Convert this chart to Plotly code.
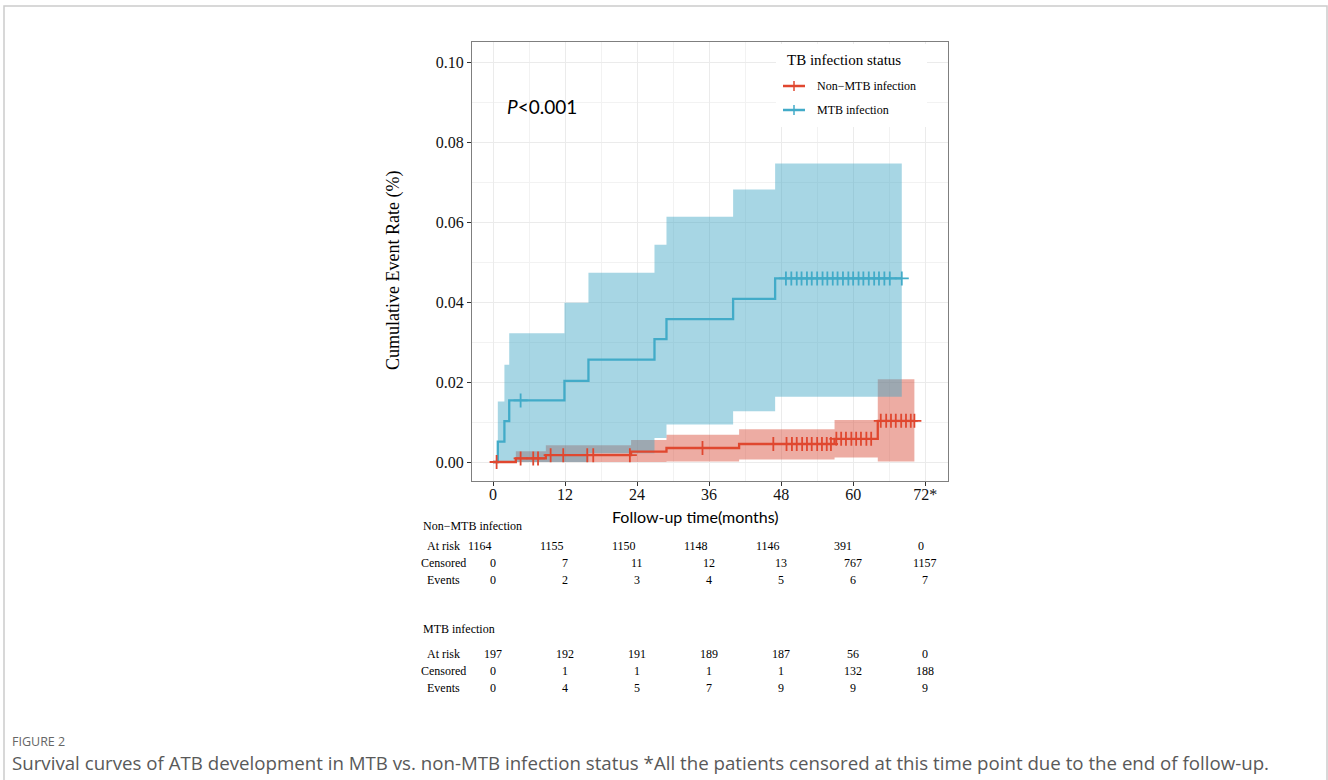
import numpy as np
import plotly.graph_objects as go

W, H = 1328, 780

# ---------------- data ----------------
# Non-MTB infection (cumulative event rate, step function)
nm_time = [0, 3.8, 8.8, 23.0, 28.9, 41.0, 56.9, 64.1, 70.2]
nm_est = [0, 0.0009, 0.0017, 0.0026, 0.0035, 0.0045, 0.0058, 0.0103, 0.0103]
nm_lower = [0, 0, 0, 0, 0.0001, 0.0006, 0.0011, 0.0001, 0.0001]
nm_upper = [0, 0.0027, 0.0042, 0.0055, 0.0068, 0.0082, 0.0105, 0.0207, 0.0207]
nm_censor = [0.6, 4.6, 6.7, 7.5, 9.6, 11.7, 15.7, 16.7, 22.8, 34.9, 46.7,
             48.9, 49.8, 50.6, 51.5, 52.3, 53.1, 54.0, 54.8, 55.6, 56.3,
             57.2, 58.0, 58.8, 59.7, 60.5, 61.3, 62.2, 63.0,
             64.6, 65.5, 66.3, 67.1, 68.0, 68.8, 69.6, 70.2]

# MTB infection
mtb_time = [0, 0.8, 1.9, 2.7, 11.9, 15.9, 26.9, 28.9, 40.0, 47.0, 68.1]
mtb_est = [0, 0.0051, 0.0102, 0.0154, 0.0203, 0.0256, 0.0307, 0.0357, 0.0408, 0.0459, 0.0459]
mtb_lower = [0, 0, 0, 0, 0, 0.0022, 0.0060, 0.0094, 0.0127, 0.0163, 0.0163]
mtb_upper = [0, 0.0151, 0.0243, 0.0322, 0.0398, 0.0473, 0.0543, 0.0613, 0.0681, 0.0746, 0.0746]
mtb_censor = [4.6, 48.8, 49.7, 50.6, 51.4, 52.3, 53.1, 54.0, 54.9, 55.7, 56.6,
              57.4, 58.3, 59.2, 60.0, 60.9, 61.7, 62.6, 63.5, 64.3, 65.2, 66.1, 68.1]

# risk table
table_times = [0, 12, 24, 36, 48, 60, 72]
x_tick_labels = ["0", "12", "24", "36", "48", "60", "72*"]
nm_at_risk = [1164, 1155, 1150, 1148, 1146, 391, 0]
nm_censored = [0, 7, 11, 12, 13, 767, 1157]
nm_events = [0, 2, 3, 4, 5, 6, 7]
mtb_at_risk = [197, 192, 191, 189, 187, 56, 0]
mtb_censored = [0, 1, 1, 1, 1, 132, 188]
mtb_events = [0, 4, 5, 7, 9, 9, 9]

y_ticks = [0.00, 0.02, 0.04, 0.06, 0.08, 0.10]

# ---------------- styles ----------------
RED = "#E0472F"
BLUE = "#42ABC8"
RED_FILL = "rgba(215,70,50,0.45)"
BLUE_FILL = "rgba(60,165,195,0.45)"
SERIF = "Liberation Serif"
SANS = "Lato"


def px(x):
    return x / W


def py(y):
    return 1 - y / H


def step_value(times, vals, t):
    i = np.searchsorted(np.asarray(times), t, side="right") - 1
    return vals[max(i, 0)]


fig = go.Figure()

# confidence bands (red first, blue over it)
for t, lo, up, fc in [(nm_time, nm_lower, nm_upper, RED_FILL),
                      (mtb_time, mtb_lower, mtb_upper, BLUE_FILL)]:
    fig.add_trace(go.Scatter(x=t, y=lo, mode="lines", line=dict(width=0, shape="hv"),
                             showlegend=False, hoverinfo="skip"))
    fig.add_trace(go.Scatter(x=t, y=up, mode="lines", line=dict(width=0, shape="hv"),
                             fill="tonexty", fillcolor=fc, showlegend=False, hoverinfo="skip"))

# step lines
fig.add_trace(go.Scatter(x=mtb_time, y=mtb_est, mode="lines",
                         line=dict(color=BLUE, width=2.3, shape="hv"),
                         showlegend=False, name="MTB infection"))
fig.add_trace(go.Scatter(x=nm_time, y=nm_est, mode="lines",
                         line=dict(color=RED, width=2.3, shape="hv"),
                         showlegend=False, name="Non−MTB infection"))

# censor marks
for times, vals, cens, col in [(mtb_time, mtb_est, mtb_censor, BLUE),
                               (nm_time, nm_est, nm_censor, RED)]:
    cy = [step_value(times, vals, c) for c in cens]
    fig.add_trace(go.Scatter(x=cens, y=cy, mode="markers",
                             marker=dict(symbol="cross-thin", size=10,
                                         line=dict(color=col, width=1.8)),
                             showlegend=False, hoverinfo="skip"))

annotations = []
shapes = []


# risk table
def add_row(vals, ypix, anchor="center", shift=0):
    for t, v in zip(table_times, vals):
        annotations.append(dict(x=t, xref="x", y=py(ypix), yref="paper", text=str(v),
                                showarrow=False, xanchor=anchor, yanchor="middle", xshift=shift,
                                font=dict(family=SERIF, size=12, color="#000")))


def add_label(text, ypix, xpix, anchor):
    annotations.append(dict(x=px(xpix), xref="paper", y=py(ypix), yref="paper", text=text,
                            showarrow=False, xanchor=anchor, yanchor="middle",
                            font=dict(family=SERIF, size=12, color="#000")))


add_label("Non−MTB infection", 526, 421, "left")
for lab, yy in [("At risk", 546), ("Censored", 563), ("Events", 580)]:
    add_label(lab, yy, 443, "center")
add_row(nm_at_risk, 546, "right", 1)
add_row(nm_censored, 563)
add_row(nm_events, 580)

add_label("MTB infection", 629, 421, "left")
for lab, yy in [("At risk", 654), ("Censored", 671), ("Events", 688)]:
    add_label(lab, yy, 443, "center")
add_row(mtb_at_risk, 654)
add_row(mtb_censored, 671)
add_row(mtb_events, 688)

# axis titles
annotations.append(dict(x=px(695), y=py(516), xref="paper", yref="paper",
                        text="Follow-up time(months)", showarrow=False,
                        xanchor="center", yanchor="middle",
                        font=dict(family=SANS, size=16, color="#000")))
annotations.append(dict(x=px(393), y=py(271), xref="paper", yref="paper",
                        text="Cumulative Event Rate (%)", showarrow=False, textangle=-90,
                        xanchor="center", yanchor="middle",
                        font=dict(family=SERIF, size=18, color="#000")))

# p-value
annotations.append(dict(x=px(505), y=py(107), xref="paper", yref="paper",
                        text="<i>P</i>&lt;0.001", showarrow=False,
                        xanchor="left", yanchor="middle",
                        font=dict(family=SANS, size=19, color="#000")))

# legend (manual)
shapes.append(dict(type="rect", xref="paper", yref="paper", x0=px(776), x1=px(927),
                   y0=py(127), y1=py(44), fillcolor="white", line=dict(width=0), layer="above"))
annotations.append(dict(x=px(785), y=py(60), xref="paper", yref="paper",
                        text="TB infection status", showarrow=False,
                        xanchor="left", yanchor="middle",
                        font=dict(family=SERIF, size=15, color="#000")))
for lab, col, yy in [("Non−MTB infection", RED, 86), ("MTB infection", BLUE, 110)]:
    shapes.append(dict(type="line", xref="paper", yref="paper", x0=px(783), x1=px(805),
                       y0=py(yy), y1=py(yy), line=dict(color=col, width=2.5), layer="above"))
    shapes.append(dict(type="line", xref="paper", yref="paper", x0=px(794), x1=px(794),
                       y0=py(yy - 5), y1=py(yy + 5), line=dict(color=col, width=1.5), layer="above"))
    annotations.append(dict(x=px(815), y=py(yy), xref="paper", yref="paper", text=lab,
                            showarrow=False, xanchor="left", yanchor="middle",
                            font=dict(family=SERIF, size=12, color="#000")))

# caption
annotations.append(dict(x=px(10), y=py(741), xref="paper", yref="paper", text="FIGURE 2",
                        showarrow=False, xanchor="left", yanchor="middle",
                        font=dict(family="Open Sans", size=12.5, color="#666")))
annotations.append(dict(x=px(10), y=py(762), xref="paper", yref="paper",
                        text="Survival curves of ATB development in MTB vs. non-MTB infection status "
                             "*All the patients censored at this time point due to the end of follow-up.",
                        showarrow=False, xanchor="left", yanchor="middle",
                        font=dict(family="Open Sans", size=18.7, color="#595959")))

# card border
shapes.append(dict(type="rect", xref="paper", yref="paper", x0=px(4), x1=px(1327),
                   y0=py(800), y1=py(6), line=dict(color="#CCCCCC", width=1.5),
                   fillcolor="rgba(0,0,0,0)", layer="below"))

fig.update_layout(
    width=W, height=H, margin=dict(l=0, r=0, t=0, b=0),
    paper_bgcolor="white", plot_bgcolor="white",
    showlegend=False,
    annotations=annotations, shapes=shapes,
    xaxis=dict(domain=[px(472), px(948)], range=[-3.5, 75.8],
               tickvals=table_times, ticktext=x_tick_labels,
               ticks="outside", ticklen=4, tickwidth=1, tickcolor="#333",
               ticklabelstandoff=-5,
               tickfont=dict(family=SERIF, size=16, color="#111"),
               showgrid=True, gridcolor="#EBEBEB", gridwidth=1.1,
               minor=dict(tickvals=[6, 18, 30, 42, 54, 66], showgrid=True,
                          gridcolor="#F2F2F2", gridwidth=0.6, ticks=""),
               showline=True, mirror=True, linecolor="#7F7F7F", linewidth=1,
               zeroline=False),
    yaxis=dict(domain=[py(481), py(42)], range=[-0.00475, 0.105],
               tickvals=y_ticks, tickformat=".2f",
               ticks="outside", ticklen=4, tickwidth=1, tickcolor="#333",
               tickfont=dict(family=SERIF, size=16, color="#111"),
               showgrid=True, gridcolor="#EBEBEB", gridwidth=1.1,
               minor=dict(tickvals=[0.01, 0.03, 0.05, 0.07, 0.09], showgrid=True,
                          gridcolor="#F2F2F2", gridwidth=0.6, ticks=""),
               showline=True, mirror=True, linecolor="#7F7F7F", linewidth=1,
               zeroline=False),
)

fig.write_html("out.html", config={"displayModeBar": False},
               post_script="document.body.style.margin='0px';document.body.style.overflow='hidden';")
